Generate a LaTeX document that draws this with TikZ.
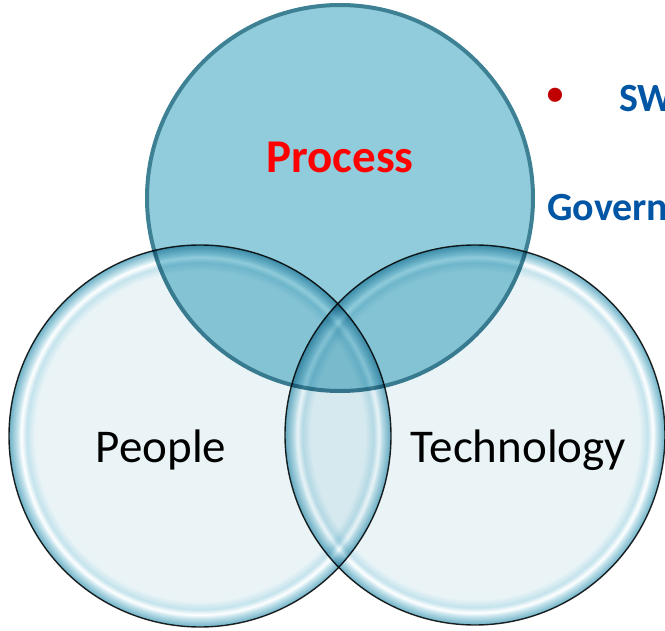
\documentclass[tikz,border=0pt]{standalone}
\usepackage{fontspec}
\setmainfont{Carlito}
\definecolor{procfill}{RGB}{144,204,219}
\definecolor{procline}{RGB}{62,128,148}
\definecolor{pin}{RGB}{234,244,247}
\definecolor{rimA}{RGB}{196,227,236}
\definecolor{rimB}{RGB}{108,176,197}
\definecolor{govblue}{RGB}{0,86,164}
\definecolor{bulletred}{RGB}{192,0,0}
\definecolor{procred}{RGB}{255,0,0}
\pgfdeclareradialshading{glossy}{\pgfpoint{0bp}{0bp}}{color(0bp)=(pin); color(21.6bp)=(pin); color(22.7bp)=(rimA); color(23.4bp)=(white); color(23.9bp)=(rimA); color(25bp)=(rimB); color(50bp)=(rimB)}
\tikzset{
  proccircle/.style={circle, inner sep=0pt, minimum size=386pt, fill=procfill, draw=procline, line width=4pt},
  glasscircle/.style={circle, inner sep=0pt, shade, shading=glossy, draw=black!85, line width=1.4pt, blend mode=multiply},
  bigword/.style={inner sep=0pt, anchor=base, font=\fontsize{47}{50}\selectfont},
  sidetext/.style={inner sep=0pt, text=govblue, font=\bfseries\fontsize{40}{44}\selectfont}
}
\begin{document}
\begin{tikzpicture}[x=1pt,y=-1pt]
\useasboundingbox (0,0) rectangle (665,631);
\clip (0,0) rectangle (665,631);
\fill[white] (0,0) rectangle (665,631);
\node[proccircle] (process) at (340,198) {};
\node[glasscircle, minimum size=382pt] (people) at (200,436) {};
\node[glasscircle, minimum size=380pt] (tech) at (475,435) {};
\node[inner sep=0pt, anchor=base, text=procred, font=\bfseries\fontsize{47}{50}\selectfont] (ptext) at (340,173) {Process};
\node[bigword] (peopletext) at (161,463) {People};
\node[bigword] (techtext) at (518.5,463) {Technology};
\node[inner sep=0pt, text=bulletred, font=\fontsize{40}{44}\selectfont] (bullet) at (555,97) {•};
\node[sidetext, anchor=base west] (sw) at (619,112) {SW};
\node[sidetext, anchor=base west] (gov) at (547,221) {Govern};
\end{tikzpicture}
\end{document}
